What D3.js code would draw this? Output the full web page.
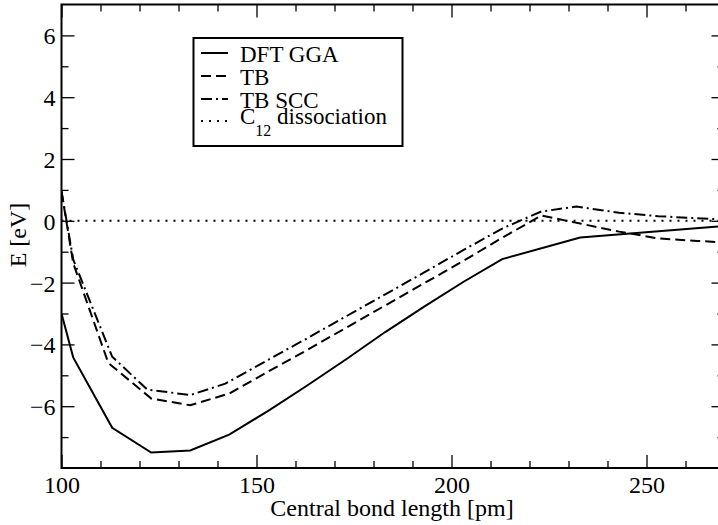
<!DOCTYPE html>
<html><head><meta charset="utf-8">
<script src="https://cdn.jsdelivr.net/npm/d3@7"></script>
</head><body style="margin:0">
<script>
const dftX = [100, 103, 113, 123, 133, 143, 153, 163, 173, 183, 193, 203, 213, 233, 270];
const dftY = [-3.0, -4.42, -6.70, -7.50, -7.43, -6.92, -6.15, -5.33, -4.48, -3.60, -2.78, -1.98, -1.24, -0.54, -0.165];
const tbX = [100, 103, 112, 123, 133, 143, 153, 163, 173, 183, 193, 203, 213, 223, 233, 243, 253, 263, 270];
const tbY = [0.95, -1.37, -4.6, -5.75, -5.97, -5.59, -4.88, -4.18, -3.46, -2.74, -2.02, -1.30, -0.55, 0.17, -0.09, -0.35, -0.57, -0.65, -0.70];
const sccX = [100, 103, 113, 122, 133, 142, 153, 163, 173, 183, 193, 203, 213, 223, 232, 243, 253, 263, 270];
const sccY = [0.95, -1.25, -4.4, -5.46, -5.64, -5.27, -4.50, -3.80, -3.09, -2.38, -1.67, -0.95, -0.25, 0.30, 0.46, 0.26, 0.15, 0.08, 0.04];
const dissX = [100, 270];
const dissY = [0, 0];
const xMajor = [100, 150, 200, 250];
const yMajor = [-6, -4, -2, 0, 2, 4, 6];
const legendLabels = ["DFT GGA", "TB", "TB SCC", "C"];

const W = 718, H = 525;
const L = 61.5, R = 724.5, T = 4.5, B = 468;
const x = d3.scaleLinear().domain([100, 270]).range([L, R]);
const y = d3.scaleLinear().domain([-8, 7]).range([B, T]);

const svg = d3.select("body").append("svg").attr("width", W).attr("height", H);
svg.append("defs").append("clipPath").attr("id", "clip")
  .append("rect").attr("x", L).attr("y", T).attr("width", R - L).attr("height", B - T);

const line = d3.line().x(d => x(d[0])).y(d => y(d[1]));
const zip = (a, b) => a.map((v, i) => [v, b[i]]);
const series = [
  {pts: zip(dftX, dftY), dash: null},
  {pts: zip(tbX, tbY), dash: "10,5"},
  {pts: zip(sccX, sccY), dash: "11,4,2,4"},
  {pts: zip(dissX, dissY), dash: "2,6"}
];
const g = svg.append("g").attr("clip-path", "url(#clip)");
series.forEach(s => {
  g.append("path").attr("d", line(s.pts)).attr("fill", "none")
    .attr("stroke", "#000").attr("stroke-width", 2)
    .attr("stroke-dasharray", s.dash);
});

const majLen = 13, minLen = 7;
const xMinor = d3.range(100, 271, 10).filter(v => !xMajor.includes(v));
const yMinor = d3.range(-7, 7, 2);
function addAxis(axisFn, scale, ticks, len, tr, labels) {
  const a = axisFn(scale).tickValues(ticks).tickSizeInner(len).tickSizeOuter(0)
    .tickFormat(labels ? d3.format("d") : "");
  const ag = svg.append("g").attr("transform", tr).call(a);
  ag.attr("font-family", "serif").attr("font-size", 24);
  ag.select(".domain").remove();
  ag.selectAll(".tick line").attr("stroke", "#000").attr("stroke-width", 1.3);
  ag.selectAll(".tick text").attr("fill", "#000");
  return ag;
}
const bx = addAxis(d3.axisTop, x, xMajor, majLen, `translate(0,${B})`, true);
bx.selectAll(".tick text").attr("y", 25).attr("dy", 0).attr("text-anchor", "middle");
addAxis(d3.axisTop, x, xMinor, minLen, `translate(0,${B})`, false);
addAxis(d3.axisBottom, x, xMajor, majLen, `translate(0,${T})`, false);
addAxis(d3.axisBottom, x, xMinor, minLen, `translate(0,${T})`, false);
const ly = addAxis(d3.axisRight, y, yMajor, majLen, `translate(${L},0)`, true);
ly.selectAll(".tick text").attr("x", -6).attr("dy", "0.35em").attr("text-anchor", "end");
addAxis(d3.axisRight, y, yMinor, minLen, `translate(${L},0)`, false);
addAxis(d3.axisLeft, y, yMajor, majLen, `translate(${R},0)`, false);
addAxis(d3.axisLeft, y, yMinor, minLen, `translate(${R},0)`, false);

svg.append("rect").attr("x", L).attr("y", T).attr("width", R - L).attr("height", B - T)
  .attr("fill", "none").attr("stroke", "#000").attr("stroke-width", 2);

svg.append("text").attr("font-family", "serif").attr("x", 392).attr("y", 516).attr("text-anchor", "middle")
  .attr("font-size", 24).text("Central bond length [pm]");
svg.append("text").attr("font-family", "serif").attr("transform", "translate(26,235) rotate(-90)").attr("text-anchor", "middle")
  .attr("font-size", 24).text("E [eV]");

const lg = svg.append("g");
lg.append("rect").attr("x", 193.5).attr("y", 38).attr("width", 209).attr("height", 108)
  .attr("fill", "#fff").attr("stroke", "#000").attr("stroke-width", 2);
const rowsLine = [53, 76, 99, 121];
const rowsBase = [62, 85, 108, 124];
legendLabels.forEach((lab, i) => {
  lg.append("line").attr("x1", 201).attr("x2", 228).attr("y1", rowsLine[i]).attr("y2", rowsLine[i])
    .attr("stroke", "#000").attr("stroke-width", 2).attr("stroke-dasharray", series[i].dash);
  const t = lg.append("text").attr("font-family", "serif").attr("x", 240).attr("y", rowsBase[i])
    .attr("font-size", 23).text(lab);
  if (i === 3) {
    t.append("tspan").attr("dy", 12).attr("font-size", 16).text("12");
    t.append("tspan").attr("dy", -12).text(" dissociation");
  }
});
</script></body></html>
